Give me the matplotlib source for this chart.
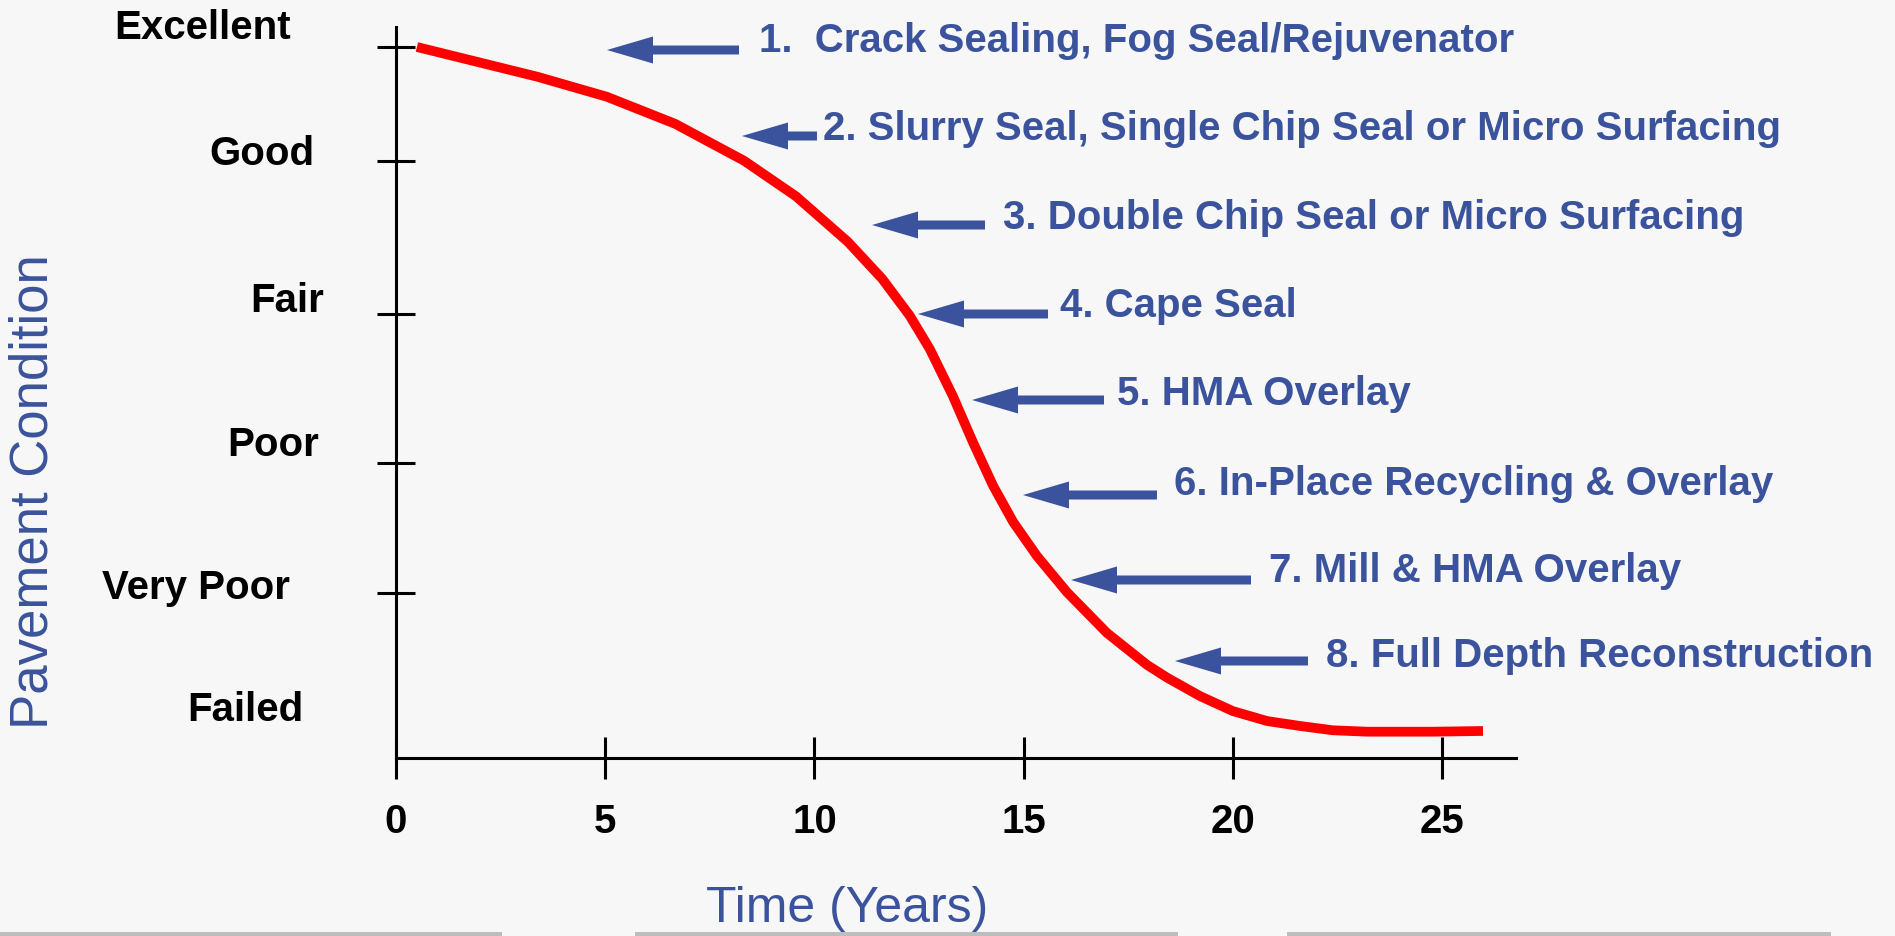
import matplotlib
matplotlib.use('Agg')
import matplotlib.pyplot as plt
from matplotlib.patches import FancyArrow, Rectangle
from matplotlib.transforms import IdentityTransform

plt.rcParams['font.family'] = ['Liberation Sans', 'DejaVu Sans']

# pavement condition curve (years vs condition 0-100)
years = [0.50, 1.74, 3.39, 5.04, 6.67, 8.32, 9.56, 10.80, 11.62, 12.28,
         12.76, 13.31, 13.79, 14.27, 14.75, 15.32, 16.04, 16.99, 17.95,
         18.43, 19.22, 20.00, 20.82, 21.61, 22.39, 23.21, 24.00, 24.78, 25.98]
condition = [100.0, 98.2, 95.8, 93.0, 89.2, 84.0, 79.0, 72.6, 67.4, 62.2,
             57.5, 50.9, 44.4, 38.3, 33.2, 28.4, 23.3, 17.6, 13.1,
             11.3, 8.7, 6.6, 5.2, 4.5, 3.9, 3.7, 3.7, 3.7, 3.8]

cond_ticks = [100, 83.9, 62.4, 41.5, 23.2]
cond_names = ['Excellent', 'Good', 'Fair', 'Poor', 'Very Poor', 'Failed']
year_ticks = [0, 5, 10, 15, 20, 25]

treatments = ['1.  Crack Sealing, Fog Seal/Rejuvenator',
              '2. Slurry Seal, Single Chip Seal or Micro Surfacing',
              '3. Double Chip Seal or Micro Surfacing',
              '4. Cape Seal',
              '5. HMA Overlay',
              '6. In-Place Recycling & Overlay',
              '7. Mill & HMA Overlay',
              '8. Full Depth Reconstruction']

W, H = 1895, 937
BLUE = '#3B539C'

fig = plt.figure(figsize=(W / 100, H / 100), dpi=100, facecolor='#f7f7f7')

# bottom grey strips of the slide template
for x0, x1 in [(0, 502), (635, 1178), (1287, 1831)]:
    fig.add_artist(Rectangle((x0, 0), x1 - x0, 4, transform=IdentityTransform(),
                             facecolor='#bdbdbd', edgecolor='none'))

ax = fig.add_axes([396 / W, (H - 759) / H, 1120 / W, 731 / H])
ax.set_facecolor('none')
ax.set_xlim(0, 1120 / 41.84)
ax.set_ylim(0, 731 / 7.11)
for s in ['top', 'right']:
    ax.spines[s].set_visible(False)
for s in ['left', 'bottom']:
    ax.spines[s].set_linewidth(2.2)
    ax.spines[s].set_color('black')

ax.plot(years, condition, color='#ff0000', lw=7, solid_capstyle='butt',
        solid_joinstyle='round', clip_on=False)

ax.set_xticks(year_ticks)
ax.set_xticklabels([str(v) for v in year_ticks], fontsize=29, fontweight='bold')
ax.tick_params(axis='x', direction='inout', length=30, width=2.2, pad=17)
ax.set_yticks(cond_ticks)
ax.set_yticklabels([])
ax.tick_params(axis='y', direction='inout', length=27, width=2.2)

# condition labels (irregular placement as on the slide)
label_pos = [(203, 39), (262, 165), (287, 312), (273, 456), (196, 599), (245, 721)]
for name, (x, y) in zip(cond_names, label_pos):
    fig.text(x / W, 1 - y / H, name, fontsize=29, fontweight='bold',
             ha='center', va='baseline', color='black')

# treatment arrows and texts
arrows = [(607, 739, 51), (742, 817, 137), (872, 985, 226), (918, 1048, 315),
          (972, 1104, 401), (1023, 1157, 496), (1071, 1251, 581), (1175, 1308, 662)]
text_pos = [(759, 52), (823, 140), (1003, 229), (1060, 317),
            (1117, 405), (1174, 495), (1269, 582), (1326, 667)]
for txt, (tip, tail, ya), (xt, yt) in zip(treatments, arrows, text_pos):
    fig.add_artist(FancyArrow(tail, H - ya, tip - tail, 0, width=9, head_width=27,
                              head_length=46, length_includes_head=True,
                              transform=IdentityTransform(), color=BLUE, lw=0))
    fig.text(xt / W, 1 - yt / H, txt, fontsize=29, fontweight='bold',
             color=BLUE, ha='left', va='baseline')

fig.text(34 / W, 1 - 492 / H, 'Pavement Condition', fontsize=38, color=BLUE,
         rotation=90, ha='center', va='center')
fig.text(847 / W, 1 - 909 / H, 'Time (Years)', fontsize=36, color=BLUE,
         ha='center', va='center')

fig.savefig('out.png', dpi=100, facecolor=fig.get_facecolor())
